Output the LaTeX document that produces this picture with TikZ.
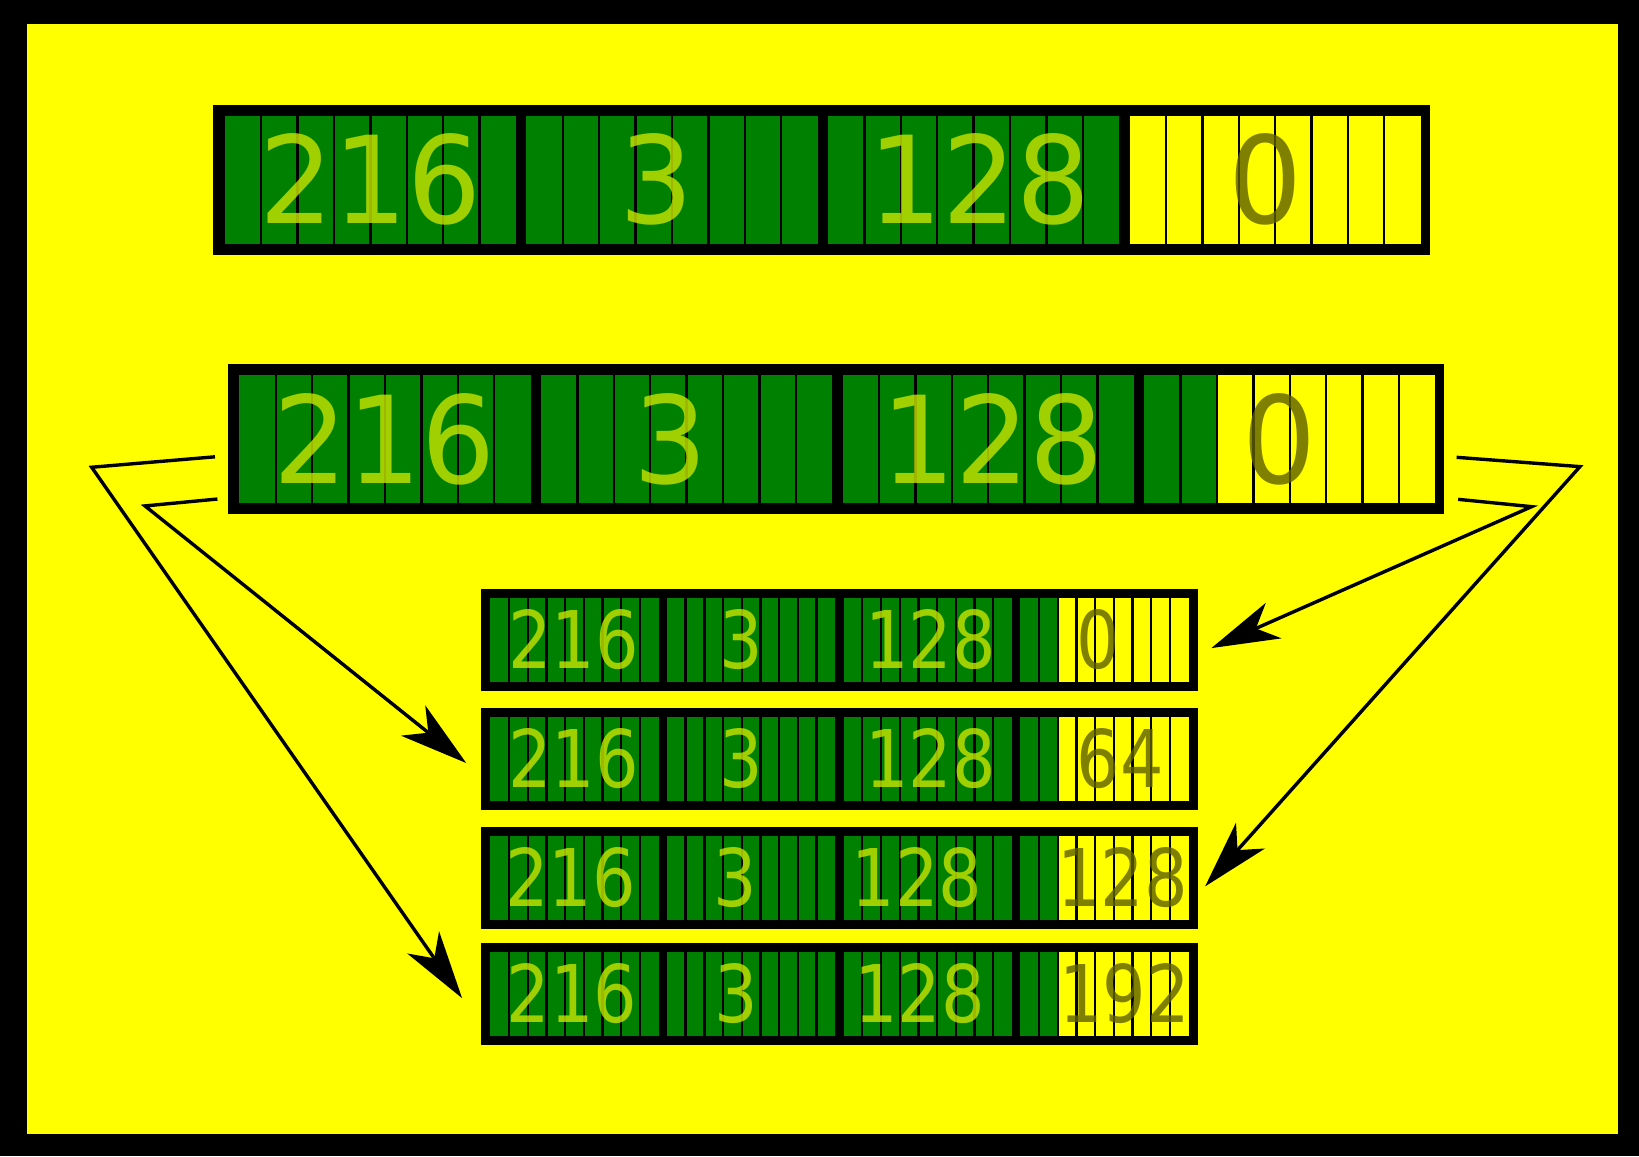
\documentclass[tikz,border=0pt]{standalone}
\usepackage{fontspec}
\setmainfont{DejaVu Sans}
\usepackage{tikz}
\usetikzlibrary{
  arrows.meta,
  positioning,
  calc
}
\definecolor{IpGreen}{RGB}{0,128,0}
\definecolor{IpYellow}{RGB}{255,255,0}
\definecolor{NetText}{RGB}{200,228,0}
\definecolor{HostText}{RGB}{96,96,0}
\tikzset{
  bigbar/.style={fill=black,inner sep=0pt,outer sep=0pt,minimum width=23.28cm,minimum height=2.88cm},
  smallbar/.style={fill=black,inner sep=0pt,outer sep=0pt,minimum width=13.72cm,minimum height=1.96cm},
  cellline/.style={line width=0.045cm,draw=black},
  bignet/.style={font=\fontsize{66}{66}\selectfont,text=NetText,text opacity=0.8,inner sep=0pt},
  bighost/.style={bignet,text=HostText},
  smallnet/.style={font=\fontsize{43.3}{43}\selectfont,text=NetText,text opacity=0.8,inner sep=0pt},
  smallhost/.style={smallnet,text=HostText},
  fanarrow/.style={-{Stealth[length=1.3cm,width=0.74cm,inset=0.37cm]},line width=0.065cm,draw=black}
}
\newcommand\bigdigits[1]{\scalebox{0.96}[1]{#1}}
\newcommand\smalldigits[1]{\scalebox{0.86}[1]{#1}}
% #1 bar node, #2 margin, #3 byte width, #4 gap, #5 height, #6 cells per byte, #7 green cells in last byte
\newcommand\ipcells[7]{%
  \begin{scope}[shift={($(#1.north west)+(#2,#2)$)}]
    \pgfmathsetmacro\ipcw{#3/#6}
    \pgfmathtruncatemacro\iplast{#6-1}
    \foreach \b in {0,...,3}{
      \pgfmathsetmacro\ipbx{\b*(#3+#4)}
      \ifnum\b=3 \def\ipng{#7}\else\def\ipng{#6}\fi
      \fill[IpYellow] (\ipbx,0) rectangle ++(#3,#5);
      \fill[IpGreen] (\ipbx,0) rectangle ++(\ipng*\ipcw,#5);
      \foreach \c in {1,...,\iplast}
        \draw[cellline] (\ipbx+\c*\ipcw,0) -- ++(0,#5);
    }
  \end{scope}}

\begin{document}
\begin{tikzpicture}[x=0.02cm,y=-0.02cm]
\useasboundingbox (0,0) rectangle (1568,1106);
\fill[black] (0,0) rectangle (1568,1106);
\fill[IpYellow] (26,23) rectangle (1548,1085);

% address bars
\node[bigbar] (r1) at (786,172) {};
\node[bigbar] (r2) at (800,420) {};
\node[smallbar] (r3) at (803,612) {};
\node[smallbar, below=0.32cm of r3] (r4) {};
\node[smallbar, below=0.32cm of r4] (r5) {};
\node[smallbar, below=0.26cm of r5] (r6) {};

\ipcells{r1}{11}{278.5}{10}{122}{8}{0}
\ipcells{r2}{11}{278.5}{10}{122}{8}{2}
\foreach \r in {r3,r4,r5,r6}{
  \ipcells{\r}{9}{161}{8}{80}{9}{2}
}

% byte values
\node[bignet] (r1-1) at (354.5,0 |- r1) {\bigdigits{216}};
\node[bignet] (r1-2) at (628,0 |- r1) {\bigdigits{3}};
\node[bignet] (r1-3) at (937.5,0 |- r1) {\bigdigits{128}};
\node[bighost] (r1-4) at (1211,0 |- r1) {\bigdigits{0}};
\node[bignet] (r2-1) at (367.5,0 |- r2) {\bigdigits{216}};
\node[bignet] (r2-2) at (641.5,0 |- r2) {\bigdigits{3}};
\node[bignet] (r2-3) at (950,0 |- r2) {\bigdigits{128}};
\node[bighost] (r2-4) at (1224,0 |- r2) {\bigdigits{0}};
\foreach \r/\xa/\xb/\xc/\xd/\v in {r3/548.5/709.5/890/1050.5/0, r4/548.5/709.5/890/1071.5/64,
    r5/546/703.5/877.5/1074/128, r6/547/704/879.5/1076/192}{
  \node[smallnet] (\r-1) at (\xa,0 |- \r) {\smalldigits{216}};
  \node[smallnet] (\r-2) at (\xb,0 |- \r) {\smalldigits{3}};
  \node[smallnet] (\r-3) at (\xc,0 |- \r) {\smalldigits{128}};
  \node[smallhost] (\r-4) at (\xd,0 |- \r) {\smalldigits{\v}};
}

% fan-out arrows
\coordinate (lo0) at (205.7,437);
\coordinate (lo1) at (87.7,447);
\coordinate (li0) at (208,477.4);
\coordinate (li1) at (138.7,484);
\coordinate (ro0) at (1393.5,437.5);
\coordinate (ro1) at (1511.5,446.4);
\coordinate (ri0) at (1395,477.7);
\coordinate (ri1) at (1465.3,484.7);
\coordinate (r6in) at ($(r6.west)+(-18,4)$);
\coordinate (r4in) at ($(r4.west)+(-14,4)$);
\coordinate (r5in) at ($(r5.east)+(7,8)$);
\coordinate (r3in) at ($(r3.east)+(13,8)$);

\draw[fanarrow] (lo0) -- (lo1) -- (r6in);
\draw[fanarrow] (li0) -- (li1) -- (r4in);
\draw[fanarrow] (ro0) -- (ro1) -- (r5in);
\draw[fanarrow] (ri0) -- (ri1) -- (r3in);
\end{tikzpicture}
\end{document}
